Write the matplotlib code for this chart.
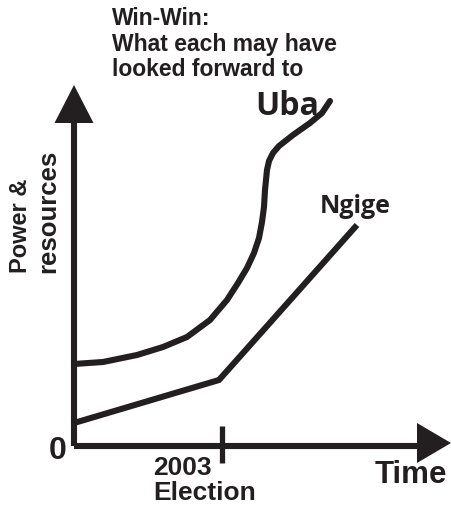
import matplotlib.pyplot as plt

# --- data (time / power units, origin at the corner of the axes) ---
uba_time = [0, 29, 63, 89, 113, 136, 153, 164, 173, 180, 185, 188, 190, 191,
            192, 193, 195, 199, 205, 219, 236, 248, 256]
uba_power = [82, 84, 91, 99, 109, 126, 146, 163, 178, 193, 208, 224, 239, 256,
             266, 276, 285, 293, 300, 311, 323, 333, 345]

ngige_time = [0, 145, 283]
ngige_power = [23, 66, 221]

election_time = 148
title_lines = ["Win-Win:", "What each may have", "looked forward to"]

INK = "#231f20"
ARIAL = "Liberation Sans"
CALIBRI = "Open Sans"

fig = plt.figure(figsize=(4.51, 5.07), dpi=100)
ax = fig.add_axes([0, 0, 1, 1])
ax.set_xlim(-74, 377)
ax.set_ylim(-61, 446)
ax.axis("off")

# axes with arrow heads
ax.plot([0, 343], [0, 0], color=INK, lw=4.4, solid_capstyle="butt")
ax.fill([343, 377, 343], [23, 3, -17], color=INK, lw=0)
ax.plot([0, 0], [0, 323], color=INK, lw=4.4, solid_capstyle="butt")
ax.fill([-19.5, 0, 19.5], [323, 361, 323], color=INK, lw=0)

# election tick
ax.plot([election_time, election_time], [20, -17], color=INK, lw=3.8, solid_capstyle="butt")

# curves
ax.plot(uba_time, uba_power, color=INK, lw=4.4, solid_joinstyle="round", solid_capstyle="round")
ax.plot(ngige_time, ngige_power, color=INK, lw=4.4, solid_joinstyle="miter", solid_capstyle="butt")

# texts
for line, base in zip(title_lines, [421, 395.5, 370]):
    ax.text(38, base, line, fontsize=16.5, fontweight="bold", family=ARIAL,
            ha="left", va="baseline", color=INK)

ax.text(181, 331, "Uba", fontsize=23, fontweight="bold", family=CALIBRI,
        ha="left", va="baseline", color=INK)
ax.text(246, 233, "Ngige", fontsize=18, fontweight="bold", family=CALIBRI,
        ha="left", va="baseline", color=INK)

ax.text(-16, -13, "0", fontsize=23, fontweight="bold", family=ARIAL,
        ha="center", va="baseline", color=INK)
ax.text(79, -29, "2003", fontsize=19, fontweight="bold", family=ARIAL,
        ha="left", va="baseline", color=INK)
ax.text(79, -54, "Election", fontsize=19, fontweight="bold", family=ARIAL,
        ha="left", va="baseline", color=INK)
ax.text(301, -37, "Time", fontsize=22.5, fontweight="bold", family=ARIAL,
        ha="left", va="baseline", color=INK)

ax.text(-47, 173, "Power &", fontsize=17, fontweight="bold", family=ARIAL,
        rotation=90, rotation_mode="anchor", ha="left", va="baseline", color=INK)
ax.text(-19, 173, "resources", fontsize=18.5, fontweight="bold", family=ARIAL,
        rotation=90, rotation_mode="anchor", ha="left", va="baseline", color=INK)

fig.savefig("out.png", dpi=100)
